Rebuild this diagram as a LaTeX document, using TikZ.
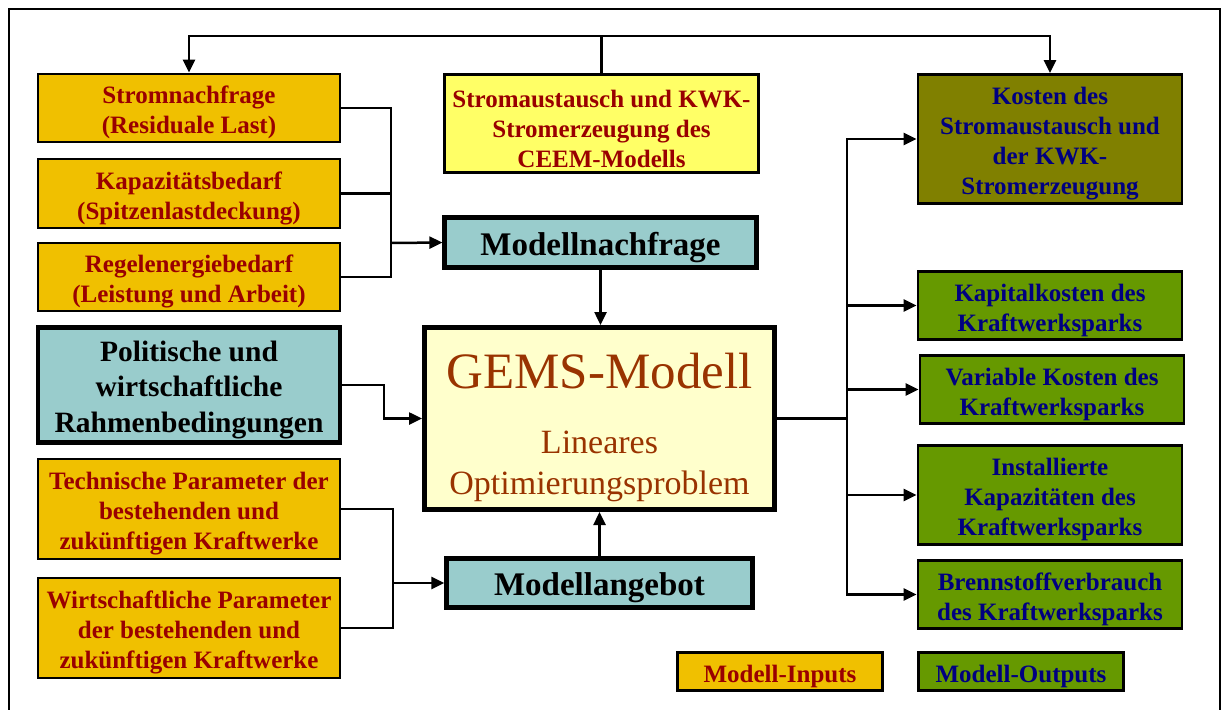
\documentclass[tikz,border=0pt]{standalone}
\usepackage{fontspec}
\setmainfont{Liberation Serif}
\usetikzlibrary{arrows.meta}
\definecolor{inorange}{HTML}{F0C000}
\definecolor{inred}{HTML}{990000}
\definecolor{ceemyellow}{HTML}{FFFF66}
\definecolor{tealfill}{HTML}{99CCCC}
\definecolor{gemsfill}{HTML}{FFFFCC}
\definecolor{gemstext}{HTML}{993300}
\definecolor{olivebox}{HTML}{808000}
\definecolor{greenbox}{HTML}{669900}
\definecolor{outnavy}{HTML}{000080}
\newcommand{\tstr}{\rule{0pt}{\dimexpr0.69em+10pt\relax}}
\begin{document}
\begin{tikzpicture}[x=1pt,y=-1pt,
  box/.style={draw=black, line width=2.8pt, align=center, inner sep=0pt,
    font=\bfseries\fontsize{25}{30}\selectfont},
  inbox/.style={box, fill=inorange, text=inred, minimum width=302pt},
  outbox/.style={box, fill=greenbox, text=outnavy, minimum width=264pt},
  tealbox/.style={box, fill=tealfill, text=black, line width=4.2pt},
  conn/.style={line width=2.5pt},
  arr/.style={conn, -{Triangle[length=13pt,width=12pt]}}]
\useasboundingbox (0,0) rectangle (1222,709);
% frame
\draw[line width=2pt] (9,720) -- (9,9) -- (1220,9) -- (1220,720);
% left inputs
\node[inbox, minimum height=68pt] (sn) at (189,108) {\tstr Stromnachfrage\\(Residuale Last)};
\node[inbox, minimum height=69pt] (kb) at (189,193.5) {\tstr Kapazitätsbedarf\\(Spitzenlastdeckung)};
\node[inbox, minimum height=68pt] (re) at (189,277) {\tstr Regelenergiebedarf\\(Leistung und Arbeit)};
\node[tealbox, minimum width=302pt, minimum height=115pt,
  font=\bfseries\fontsize{29.5}{35.5}\selectfont] (pol) at (189,385) {\tstr Politische und\\wirtschaftliche\\Rahmenbedingungen};
\node[inbox, minimum height=100pt] (tp) at (189,509) {\tstr Technische Parameter der\\bestehenden und\\zukünftigen Kraftwerke};
\node[inbox, minimum height=100pt] (wp) at (189,628) {\tstr Wirtschaftliche Parameter\\der bestehenden und\\zukünftigen Kraftwerke};
% centre
\node[box, fill=ceemyellow, text=inred, line width=3.2pt, minimum width=314pt, minimum height=98pt] (sa) at (601.5,123.5)
  {\tstr Stromaustausch und KWK-\\Stromerzeugung des\\CEEM-Modells};
\node[tealbox, minimum width=312pt, minimum height=50pt, font=\bfseries\fontsize{33}{40}\selectfont] (mn) at (600.5,242.5) {\tstr Modellnachfrage};
\node[draw=black, line width=5pt, fill=gemsfill, minimum width=350pt, minimum height=182pt, inner sep=0pt] (gems) at (599.5,418.5) {};
\node[align=center, inner sep=0pt, text=gemstext, anchor=base,
  font=\fontsize{34}{41}\selectfont] (gemst) at (599.5,494)
  {{\fontsize{51}{41}\selectfont GEMS-Modell}\\[24pt]Lineares\\Optimierungsproblem};
\node[tealbox, minimum width=306pt, minimum height=49pt, font=\bfseries\fontsize{33}{40}\selectfont] (ma) at (599.5,583) {\tstr Modellangebot};
% right outputs
\node[box, fill=olivebox, text=outnavy, minimum width=264pt, minimum height=129pt] (ko) at (1050,139)
  {\tstr Kosten des\\Stromaustausch und\\der KWK-\\Stromerzeugung};
\node[outbox, minimum height=68pt] (kk) at (1050,305.5) {\tstr Kapitalkosten des\\Kraftwerksparks};
\node[outbox, minimum height=68pt] (vk) at (1052,389.5) {\tstr Variable Kosten des\\Kraftwerksparks};
\node[outbox, minimum height=99pt] (ik) at (1050,495) {\tstr Installierte\\Kapazitäten des\\Kraftwerksparks};
\node[outbox, minimum height=68pt] (bv) at (1050,594.5) {\tstr Brennstoffverbrauch\\des Kraftwerksparks};
% legend
\node[box, fill=inorange, text=inred, minimum width=205pt, minimum height=38pt] (li) at (780,671.5) {\tstr Modell-Inputs};
\node[box, fill=greenbox, text=outnavy, minimum width=205pt, minimum height=38pt] (lo) at (1021,671.5) {\tstr Modell-Outputs};
% connectors
\coordinate (j1) at (391,243);
\coordinate (j2) at (393,583);
\coordinate (j3) at (847,418.5);
\draw[arr] (sa.north) -- ++(0,-37) -| (sn.north);
\draw[arr] (sa.north) -- ++(0,-37) -| (ko.north);
\draw[conn] (sn.east) -| (j1);
\draw[conn] (re.east) -| (j1);
\draw[conn] (kb.east) -- (kb.east -| j1);
\draw[arr] (j1) -- (mn.west);
\draw[arr] (pol.east) -- ++(42,0) |- (gems.west);
\draw[conn] (tp.east) -| (j2);
\draw[conn] (wp.east) -| (j2);
\draw[arr] (j2) -- (ma.west);
\draw[arr] (mn.south) -- (mn.south |- gems.north);
\draw[arr] (ma.north) -- (ma.north |- gems.south);
\draw[conn] (gems.east) -- (j3);
\draw[arr] (j3) |- (ko.west);
\draw[arr] (j3) |- (kk.west);
\draw[arr] (j3) |- (vk.west);
\draw[arr] (j3) |- (ik.west);
\draw[arr] (j3) |- (bv.west);
\end{tikzpicture}
\end{document}
